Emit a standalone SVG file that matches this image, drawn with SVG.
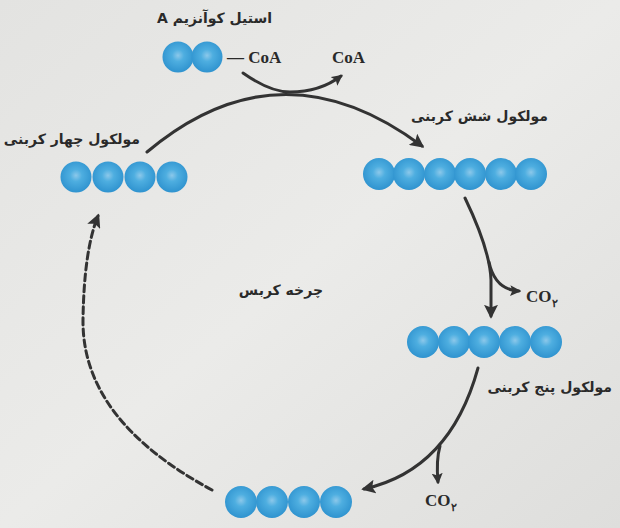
<svg xmlns="http://www.w3.org/2000/svg" width="620" height="528" viewBox="0 0 620 528">
<defs>
<linearGradient id="bg" x1="0" y1="0" x2="1" y2="1">
<stop offset="0" stop-color="#e3e3e1"/>
<stop offset="0.5" stop-color="#ebebe9"/>
<stop offset="1" stop-color="#dededc"/>
</linearGradient>
<radialGradient id="ball" cx="0.5" cy="0.45" r="0.55">
<stop offset="0" stop-color="#8cc8ea"/>
<stop offset="0.35" stop-color="#4eaee0"/>
<stop offset="1" stop-color="#2f93cf"/>
</radialGradient>
<marker id="ah" viewBox="0 0 10 10" refX="8" refY="5" markerWidth="14" markerHeight="14" markerUnits="userSpaceOnUse" orient="auto">
<path d="M0,0 L10,5 L0,10 L2,5 z" fill="#333"/>
</marker>
<marker id="ahs" viewBox="0 0 10 10" refX="8" refY="5" markerWidth="11" markerHeight="11" markerUnits="userSpaceOnUse" orient="auto">
<path d="M0,0 L10,5 L0,10 L2,5 z" fill="#333"/>
</marker>
</defs>
<style>
.b{fill:url(#ball)}
.fa{font-family:"DejaVu Sans","Noto Sans",sans-serif;font-weight:bold;font-size:14px;fill:#2a2a2a}
.lt{font-family:"Liberation Serif",serif;font-weight:bold;font-size:17px;fill:#2a2a2a}
.ar{fill:none;stroke:#333;stroke-width:3;stroke-linecap:round}
</style>
<rect width="620" height="528" fill="url(#bg)"/>

<g id="connectors">
<path class="ar" d="M147,152 Q280,40 422,146" marker-end="url(#ah)"/>
<path class="ar" d="M243,73 Q270,92 290,92 Q320,92 341,76" marker-end="url(#ahs)"/>
<path class="ar" d="M465,198 Q490,250 491,280 L491,316" marker-end="url(#ah)"/>
<path class="ar" d="M489,262 Q495,290 519,291" marker-end="url(#ahs)"/>
<path class="ar" d="M478,368 Q450,470 364,489" marker-end="url(#ah)"/>
<path class="ar" d="M440,446 Q436,460 438,482" marker-end="url(#ahs)"/>
<path class="ar" d="M212,490 Q82,420 83,320 Q84,250 98,216" stroke-dasharray="7,4" marker-end="url(#ah)"/>
</g>

<g id="acetylcoa">
<text class="fa" x="272" y="23" text-anchor="start" direction="rtl">استیل کوآنزیم A</text>
<circle class="b" cx="178" cy="57" r="15.5"/>
<circle class="b" cx="207" cy="57" r="15.5"/>
<text class="lt" x="227" y="63">— CoA</text>
</g>
<g id="coa">
<text class="lt" x="332" y="63">CoA</text>
</g>

<g id="c6">
<text class="fa" x="548" y="121" text-anchor="start" direction="rtl">مولکول شش کربنی</text>
<circle class="b" cx="379" cy="174" r="16"/>
<circle class="b" cx="409" cy="174" r="16"/>
<circle class="b" cx="440" cy="174" r="16"/>
<circle class="b" cx="470" cy="174" r="16"/>
<circle class="b" cx="501" cy="174" r="16"/>
<circle class="b" cx="531" cy="174" r="16"/>
</g>

<g id="co2a">
<text class="lt" x="526" y="302">CO<tspan font-size="11" dy="5">۲</tspan></text>
</g>

<g id="c5">
<circle class="b" cx="423" cy="342" r="16"/>
<circle class="b" cx="454" cy="342" r="16"/>
<circle class="b" cx="484" cy="342" r="16"/>
<circle class="b" cx="515" cy="342" r="16"/>
<circle class="b" cx="546" cy="342" r="16"/>
<text class="fa" x="612" y="392" text-anchor="start" direction="rtl">مولکول پنج کربنی</text>
</g>

<g id="co2b">
<text class="lt" x="425" y="506">CO<tspan font-size="11" dy="5">۲</tspan></text>
</g>

<g id="c4b">
<circle class="b" cx="241" cy="502" r="16"/>
<circle class="b" cx="272" cy="502" r="16"/>
<circle class="b" cx="304" cy="502" r="16"/>
<circle class="b" cx="336" cy="502" r="16"/>
</g>

<g id="c4">
<text class="fa" x="140" y="144" text-anchor="start" direction="rtl">مولکول چهار کربنی</text>
<circle class="b" cx="76" cy="177" r="15.5"/>
<circle class="b" cx="108" cy="177" r="15.5"/>
<circle class="b" cx="140" cy="177" r="15.5"/>
<circle class="b" cx="172" cy="177" r="15.5"/>
</g>

<g id="krebs">
<text class="fa" x="323" y="295" text-anchor="start" direction="rtl" font-size="13">چرخه کربس</text>
</g>
</svg>
